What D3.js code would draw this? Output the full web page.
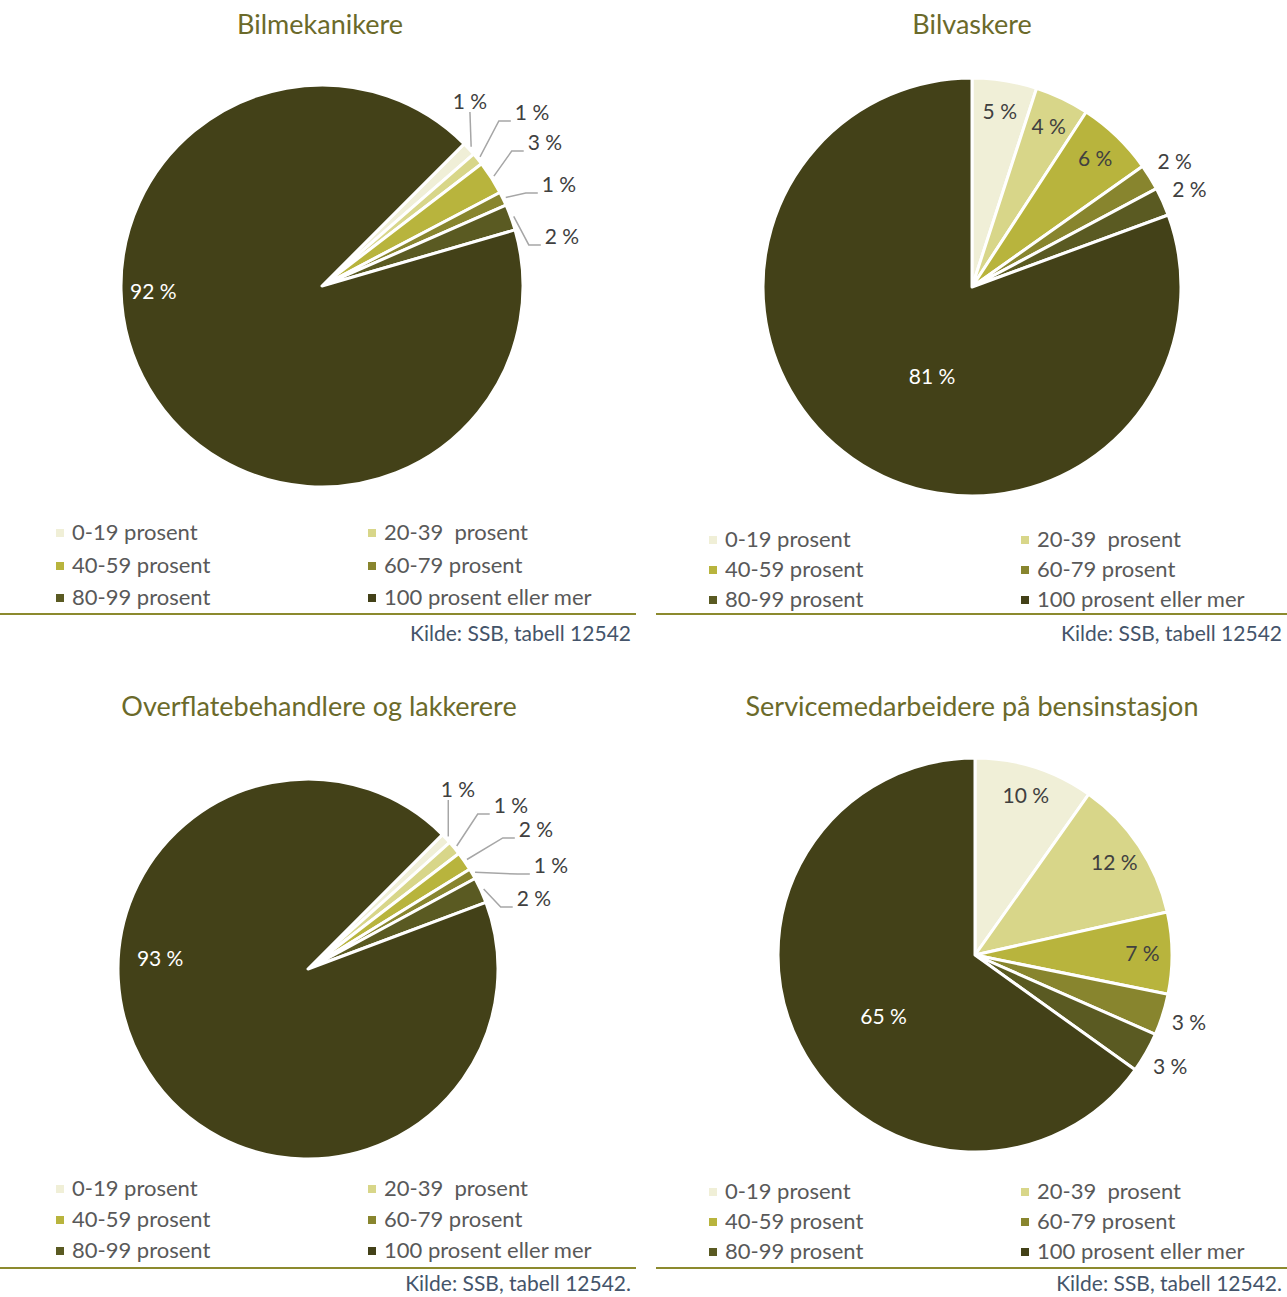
<!DOCTYPE html>
<html>
<head>
<meta charset="utf-8">
<script src="https://cdn.jsdelivr.net/npm/d3@7"></script>
<style>
  html, body { margin: 0; padding: 0; background: #ffffff; }
  svg text { font-family: Lato, "Open Sans", sans-serif; white-space: pre; }
</style>
</head>
<body>
<svg id="chart" width="1287" height="1297"></svg>
<script>
// ---------- DATA ----------
const categories = ["0-19 prosent", "20-39  prosent", "40-59 prosent", "60-79 prosent", "80-99 prosent", "100 prosent eller mer"];
const sliceColors = ["#F0EFD7", "#D8D689", "#B8B43D", "#88852E", "#5A5A22", "#434118"];

const titles = ["Bilmekanikere", "Bilvaskere", "Overflatebehandlere og lakkerere", "Servicemedarbeidere på bensinstasjon"];
const sources = ["Kilde: SSB, tabell 12542", "Kilde: SSB, tabell 12542", "Kilde: SSB, tabell 12542.", "Kilde: SSB, tabell 12542."];

const valuesBilmekanikere = [1.1, 1.0, 2.7, 1.1, 2.1, 92.0];
const labelsBilmekanikere = ["1 %", "1 %", "3 %", "1 %", "2 %", "92 %"];

const valuesBilvaskere = [5.0, 4.2, 6.0, 2.0, 2.2, 80.6];
const labelsBilvaskere = ["5 %", "4 %", "6 %", "2 %", "2 %", "81 %"];

const valuesOverflate = [0.9, 1.2, 1.6, 0.9, 2.2, 93.2];
const labelsOverflate = ["1 %", "1 %", "2 %", "1 %", "2 %", "93 %"];

const valuesService = [9.8, 11.7, 6.7, 3.4, 3.3, 65.1];
const labelsService = ["10 %", "12 %", "7 %", "3 %", "3 %", "65 %"];

const seriesValues = [valuesBilmekanikere, valuesBilvaskere, valuesOverflate, valuesService];
const seriesLabels = [labelsBilmekanikere, labelsBilvaskere, labelsOverflate, labelsService];

// ---------- LAYOUT (positions / styles) ----------
const panels = [
  { x0: 0,   x1: 636,  cx: 322, cy: 286, r: 201, start: 45, titleX: 320, titleY: 25,
    legendRows: [532, 565, 597], legendCols: [56, 368], sepY: 614, srcY: 634,
    labelMode: ["lead", "lead", "lead", "lead", "lead", "big"],
    leadPos: [[0.736, -0.915], [1.045, -0.861], [1.109, -0.711], [1.179, -0.502], [1.194, -0.244]],
    big: [268, 0.84] },
  { x0: 656, x1: 1287, cx: 972, cy: 287, r: 209, start: 0, titleX: 972, titleY: 25,
    legendRows: [539, 569, 599], legendCols: [709, 1021], sepY: 614, srcY: 634,
    labelMode: ["in", "in", "in", "out", "out", "big"],
    big: [204, 0.47] },
  { x0: 0,   x1: 636,  cx: 308, cy: 969, r: 190, start: 45, titleX: 319, titleY: 707,
    legendRows: [1188, 1219, 1250], legendCols: [56, 368], sepY: 1268, srcY: 1284,
    labelMode: ["lead", "lead", "lead", "lead", "lead", "big"],
    leadPos: [[0.789, -0.942], [1.068, -0.858], [1.2, -0.732], [1.279, -0.542], [1.189, -0.368]],
    big: [274, 0.78] },
  { x0: 656, x1: 1287, cx: 975, cy: 955, r: 197, start: 0, titleX: 972, titleY: 707,
    legendRows: [1191, 1221, 1251], legendCols: [709, 1021], sepY: 1268, srcY: 1284,
    labelMode: ["in", "in", "in", "out", "out", "big"],
    big: [236, 0.56] }
];

const titleColor = "#6B6A2A";
const labelColor = "#404040";
const legendTextColor = "#595959";
const sourceColor = "#44546A";
const sepColor = "#8C8A2E";
const leaderColor = "#A6A6A6";

const svg = d3.select("#chart");
const color = d3.scaleOrdinal().domain(categories).range(sliceColors);
const rad = Math.PI / 180;

panels.forEach((p, i) => {
  const vals = seriesValues[i];
  const labs = seriesLabels[i];
  const data = categories.map((c, k) => ({ cat: c, value: vals[k], label: labs[k] }));

  const g = svg.append("g");

  // Title
  g.append("text")
    .attr("x", p.titleX).attr("y", p.titleY)
    .attr("dy", "0.35em")
    .attr("text-anchor", "middle")
    .attr("font-size", 27)
    .attr("fill", titleColor)
    .text(titles[i]);

  const pie = d3.pie().sort(null).value(d => d.value)
    .startAngle(p.start * rad).endAngle(p.start * rad + 2 * Math.PI);
  const arcs = pie(data);
  const arc = d3.arc().innerRadius(0).outerRadius(p.r);

  const pg = g.append("g").attr("transform", `translate(${p.cx},${p.cy})`);
  pg.selectAll("path.slice").data(arcs).join("path")
    .attr("class", "slice")
    .attr("d", arc)
    .attr("fill", d => color(d.data.cat))
    .attr("stroke", "#ffffff")
    .attr("stroke-width", 3)
    .attr("stroke-linejoin", "round");

  // Labels
  arcs.forEach((a, k) => {
    const mode = p.labelMode[k];
    const mid = (a.startAngle + a.endAngle) / 2;
    let lx, ly, fill = labelColor;
    if (mode === "in") {
      lx = Math.sin(mid) * p.r * 0.85; ly = -Math.cos(mid) * p.r * 0.85;
    } else if (mode === "out") {
      lx = Math.sin(mid) * p.r * 1.14; ly = -Math.cos(mid) * p.r * 1.14;
    } else if (mode === "big") {
      const ang = p.big[0] * rad;
      lx = Math.sin(ang) * p.r * p.big[1]; ly = -Math.cos(ang) * p.r * p.big[1];
      fill = "#ffffff";
    } else {
      lx = p.leadPos[k][0] * p.r; ly = p.leadPos[k][1] * p.r;
    }
    const t = pg.append("text")
      .attr("x", lx).attr("y", ly).attr("dy", "0.35em")
      .attr("text-anchor", "middle")
      .attr("font-size", 21)
      .attr("fill", fill)
      .text(a.data.label);
    if (mode === "lead") {
      const w = t.node().getComputedTextLength();
      const left = lx - w / 2, bottom = ly + 8;
      const ax = Math.sin(mid) * (p.r + 3), ay = -Math.cos(mid) * (p.r + 3);
      let pts;
      if (ax > left - 10) {
        pts = [[ax, ay], [Math.min(ax, lx), bottom + 2]];
      } else {
        pts = [[ax, ay], [left - 16, bottom], [left - 4, bottom]];
      }
      pg.append("path")
        .attr("d", d3.line()(pts))
        .attr("fill", "none")
        .attr("stroke", leaderColor)
        .attr("stroke-width", 1.5);
    }
  });

  // Legend
  categories.forEach((c, k) => {
    const row = Math.floor(k / 2), col = k % 2;
    const x = p.legendCols[col], y = p.legendRows[row];
    g.append("rect")
      .attr("x", x).attr("y", y - 3)
      .attr("width", 8).attr("height", 8)
      .attr("fill", color(c));
    g.append("text")
      .attr("x", x + 16).attr("y", y)
      .attr("dy", "0.35em")
      .attr("font-size", 22)
      .attr("fill", legendTextColor)
      .text(c);
  });

  // Separator + source
  g.append("line")
    .attr("x1", p.x0).attr("x2", p.x1)
    .attr("y1", p.sepY).attr("y2", p.sepY)
    .attr("stroke", sepColor).attr("stroke-width", 2);
  g.append("text")
    .attr("x", p.x1 - 5).attr("y", p.srcY)
    .attr("dy", "0.35em")
    .attr("text-anchor", "end")
    .attr("font-size", 21)
    .attr("fill", sourceColor)
    .text(sources[i]);
});
</script>
</body>
</html>
